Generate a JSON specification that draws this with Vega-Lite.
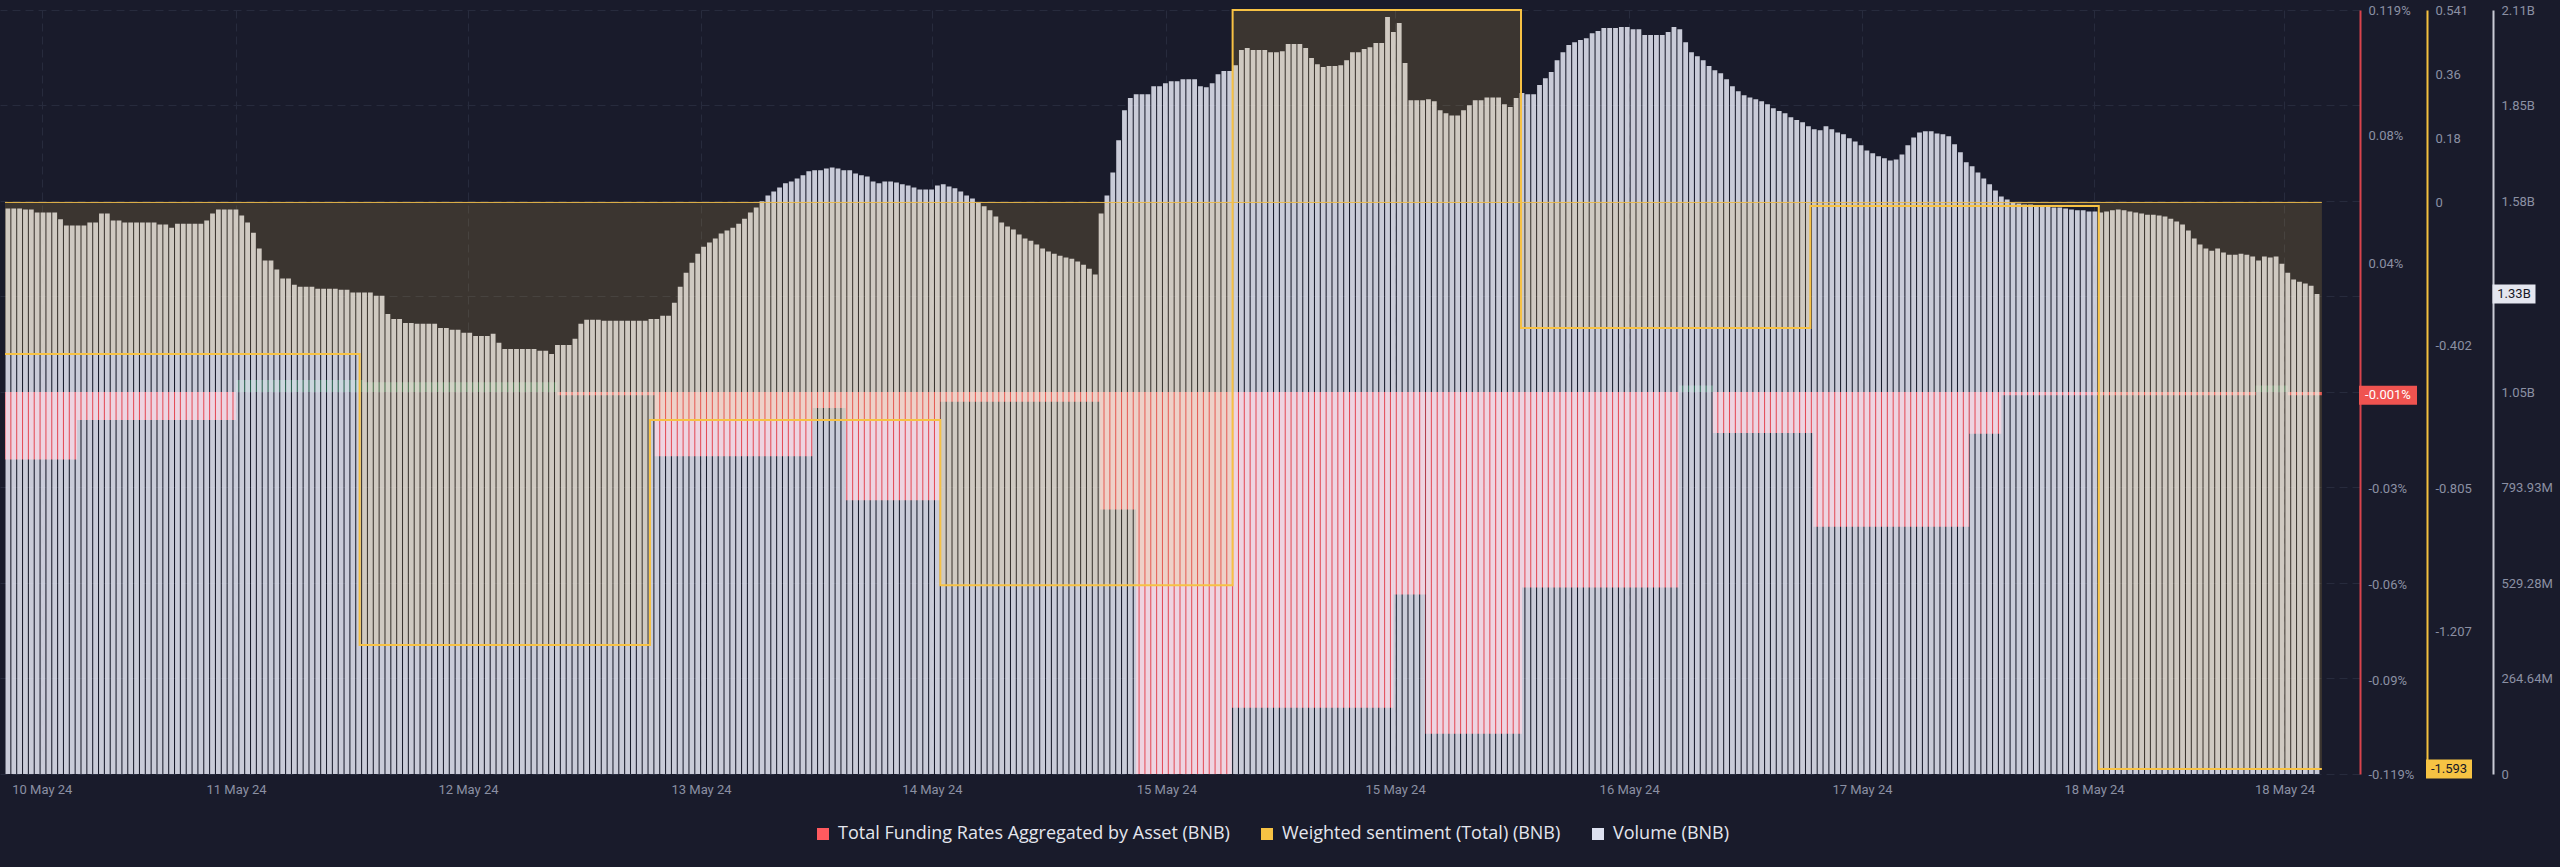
{
"$schema": "https://vega.github.io/schema/vega-lite/v6.json",
"width": 2360,
"height": 764,
"autosize": {"type": "none"},
"padding": {"left": 0, "top": 10, "right": 200, "bottom": 93},
"background": "#191b2b",
"config": {"view": {"stroke": null}, "font": "Roboto", "axis": {"labelFont": "Roboto"}, "legend": {"labelFont": "Open Sans"}},
"datasets": {
"volume": [
{"t":"2024-05-10T21:00","v":1.567},{"t":"2024-05-10T21:30","v":1.567},{"t":"2024-05-10T22:00","v":1.567},{"t":"2024-05-10T22:30","v":1.564},{"t":"2024-05-10T23:00","v":1.564},{"t":"2024-05-10T23:30","v":1.556},
{"t":"2024-05-11T00:00","v":1.556},{"t":"2024-05-11T00:30","v":1.556},{"t":"2024-05-11T01:00","v":1.556},{"t":"2024-05-11T01:30","v":1.537},{"t":"2024-05-11T02:00","v":1.520},{"t":"2024-05-11T02:30","v":1.520},{"t":"2024-05-11T03:00","v":1.520},{"t":"2024-05-11T03:30","v":1.520},{"t":"2024-05-11T04:00","v":1.528},{"t":"2024-05-11T04:30","v":1.528},{"t":"2024-05-11T05:00","v":1.553},{"t":"2024-05-11T05:30","v":1.553},{"t":"2024-05-11T06:00","v":1.534},{"t":"2024-05-11T06:30","v":1.534},{"t":"2024-05-11T07:00","v":1.528},{"t":"2024-05-11T07:30","v":1.528},{"t":"2024-05-11T08:00","v":1.528},{"t":"2024-05-11T08:30","v":1.528},{"t":"2024-05-11T09:00","v":1.528},{"t":"2024-05-11T09:30","v":1.528},{"t":"2024-05-11T10:00","v":1.523},{"t":"2024-05-11T10:30","v":1.523},{"t":"2024-05-11T11:00","v":1.514},{"t":"2024-05-11T11:30","v":1.525},{"t":"2024-05-11T12:00","v":1.525},{"t":"2024-05-11T12:30","v":1.525},{"t":"2024-05-11T13:00","v":1.525},{"t":"2024-05-11T13:30","v":1.525},{"t":"2024-05-11T14:00","v":1.534},{"t":"2024-05-11T14:30","v":1.553},{"t":"2024-05-11T15:00","v":1.564},{"t":"2024-05-11T15:30","v":1.564},{"t":"2024-05-11T16:00","v":1.564},{"t":"2024-05-11T16:30","v":1.564},{"t":"2024-05-11T17:00","v":1.548},{"t":"2024-05-11T17:30","v":1.528},{"t":"2024-05-11T18:00","v":1.500},{"t":"2024-05-11T18:30","v":1.456},{"t":"2024-05-11T19:00","v":1.423},{"t":"2024-05-11T19:30","v":1.423},{"t":"2024-05-11T20:00","v":1.398},{"t":"2024-05-11T20:30","v":1.373},{"t":"2024-05-11T21:00","v":1.373},{"t":"2024-05-11T21:30","v":1.356},{"t":"2024-05-11T22:00","v":1.350},{"t":"2024-05-11T22:30","v":1.350},{"t":"2024-05-11T23:00","v":1.350},{"t":"2024-05-11T23:30","v":1.345},
{"t":"2024-05-12T00:00","v":1.345},{"t":"2024-05-12T00:30","v":1.345},{"t":"2024-05-12T01:00","v":1.345},{"t":"2024-05-12T01:30","v":1.342},{"t":"2024-05-12T02:00","v":1.342},{"t":"2024-05-12T02:30","v":1.334},{"t":"2024-05-12T03:00","v":1.334},{"t":"2024-05-12T03:30","v":1.334},{"t":"2024-05-12T04:00","v":1.334},{"t":"2024-05-12T04:30","v":1.325},{"t":"2024-05-12T05:00","v":1.325},{"t":"2024-05-12T05:30","v":1.275},{"t":"2024-05-12T06:00","v":1.261},{"t":"2024-05-12T06:30","v":1.261},{"t":"2024-05-12T07:00","v":1.250},{"t":"2024-05-12T07:30","v":1.250},{"t":"2024-05-12T08:00","v":1.248},{"t":"2024-05-12T08:30","v":1.248},{"t":"2024-05-12T09:00","v":1.248},{"t":"2024-05-12T09:30","v":1.248},{"t":"2024-05-12T10:00","v":1.236},{"t":"2024-05-12T10:30","v":1.236},{"t":"2024-05-12T11:00","v":1.231},{"t":"2024-05-12T11:30","v":1.231},{"t":"2024-05-12T12:00","v":1.223},{"t":"2024-05-12T12:30","v":1.223},{"t":"2024-05-12T13:00","v":1.214},{"t":"2024-05-12T13:30","v":1.214},{"t":"2024-05-12T14:00","v":1.214},{"t":"2024-05-12T14:30","v":1.220},{"t":"2024-05-12T15:00","v":1.195},{"t":"2024-05-12T15:30","v":1.178},{"t":"2024-05-12T16:00","v":1.178},{"t":"2024-05-12T16:30","v":1.178},{"t":"2024-05-12T17:00","v":1.178},{"t":"2024-05-12T17:30","v":1.178},{"t":"2024-05-12T18:00","v":1.178},{"t":"2024-05-12T18:30","v":1.173},{"t":"2024-05-12T19:00","v":1.173},{"t":"2024-05-12T19:30","v":1.164},{"t":"2024-05-12T20:00","v":1.189},{"t":"2024-05-12T20:30","v":1.189},{"t":"2024-05-12T21:00","v":1.189},{"t":"2024-05-12T21:30","v":1.206},{"t":"2024-05-12T22:00","v":1.248},{"t":"2024-05-12T22:30","v":1.259},{"t":"2024-05-12T23:00","v":1.259},{"t":"2024-05-12T23:30","v":1.259},
{"t":"2024-05-13T00:00","v":1.256},{"t":"2024-05-13T00:30","v":1.256},{"t":"2024-05-13T01:00","v":1.256},{"t":"2024-05-13T01:30","v":1.256},{"t":"2024-05-13T02:00","v":1.256},{"t":"2024-05-13T02:30","v":1.256},{"t":"2024-05-13T03:00","v":1.256},{"t":"2024-05-13T03:30","v":1.256},{"t":"2024-05-13T04:00","v":1.261},{"t":"2024-05-13T04:30","v":1.261},{"t":"2024-05-13T05:00","v":1.270},{"t":"2024-05-13T05:30","v":1.270},{"t":"2024-05-13T06:00","v":1.306},{"t":"2024-05-13T06:30","v":1.350},{"t":"2024-05-13T07:00","v":1.389},{"t":"2024-05-13T07:30","v":1.417},{"t":"2024-05-13T08:00","v":1.442},{"t":"2024-05-13T08:30","v":1.461},{"t":"2024-05-13T09:00","v":1.473},{"t":"2024-05-13T09:30","v":1.484},{"t":"2024-05-13T10:00","v":1.498},{"t":"2024-05-13T10:30","v":1.506},{"t":"2024-05-13T11:00","v":1.514},{"t":"2024-05-13T11:30","v":1.525},{"t":"2024-05-13T12:00","v":1.539},{"t":"2024-05-13T12:30","v":1.556},{"t":"2024-05-13T13:00","v":1.570},{"t":"2024-05-13T13:30","v":1.587},{"t":"2024-05-13T14:00","v":1.603},{"t":"2024-05-13T14:30","v":1.614},{"t":"2024-05-13T15:00","v":1.625},{"t":"2024-05-13T15:30","v":1.637},{"t":"2024-05-13T16:00","v":1.642},{"t":"2024-05-13T16:30","v":1.650},{"t":"2024-05-13T17:00","v":1.659},{"t":"2024-05-13T17:30","v":1.670},{"t":"2024-05-13T18:00","v":1.673},{"t":"2024-05-13T18:30","v":1.673},{"t":"2024-05-13T19:00","v":1.678},{"t":"2024-05-13T19:30","v":1.681},{"t":"2024-05-13T20:00","v":1.678},{"t":"2024-05-13T20:30","v":1.673},{"t":"2024-05-13T21:00","v":1.673},{"t":"2024-05-13T21:30","v":1.664},{"t":"2024-05-13T22:00","v":1.659},{"t":"2024-05-13T22:30","v":1.656},{"t":"2024-05-13T23:00","v":1.642},{"t":"2024-05-13T23:30","v":1.637},
{"t":"2024-05-14T00:00","v":1.642},{"t":"2024-05-14T00:30","v":1.642},{"t":"2024-05-14T01:00","v":1.639},{"t":"2024-05-14T01:30","v":1.634},{"t":"2024-05-14T02:00","v":1.631},{"t":"2024-05-14T02:30","v":1.625},{"t":"2024-05-14T03:00","v":1.620},{"t":"2024-05-14T03:30","v":1.620},{"t":"2024-05-14T04:00","v":1.620},{"t":"2024-05-14T04:30","v":1.631},{"t":"2024-05-14T05:00","v":1.634},{"t":"2024-05-14T05:30","v":1.628},{"t":"2024-05-14T06:00","v":1.623},{"t":"2024-05-14T06:30","v":1.614},{"t":"2024-05-14T07:00","v":1.603},{"t":"2024-05-14T07:30","v":1.595},{"t":"2024-05-14T08:00","v":1.584},{"t":"2024-05-14T08:30","v":1.573},{"t":"2024-05-14T09:00","v":1.562},{"t":"2024-05-14T09:30","v":1.545},{"t":"2024-05-14T10:00","v":1.528},{"t":"2024-05-14T10:30","v":1.517},{"t":"2024-05-14T11:00","v":1.509},{"t":"2024-05-14T11:30","v":1.495},{"t":"2024-05-14T12:00","v":1.484},{"t":"2024-05-14T12:30","v":1.478},{"t":"2024-05-14T13:00","v":1.467},{"t":"2024-05-14T13:30","v":1.456},{"t":"2024-05-14T14:00","v":1.448},{"t":"2024-05-14T14:30","v":1.442},{"t":"2024-05-14T15:00","v":1.436},{"t":"2024-05-14T15:30","v":1.431},{"t":"2024-05-14T16:00","v":1.428},{"t":"2024-05-14T16:30","v":1.420},{"t":"2024-05-14T17:00","v":1.411},{"t":"2024-05-14T17:30","v":1.400},{"t":"2024-05-14T18:00","v":1.384},{"t":"2024-05-14T18:30","v":1.553},{"t":"2024-05-14T19:00","v":1.603},{"t":"2024-05-14T19:30","v":1.667},{"t":"2024-05-14T20:00","v":1.756},{"t":"2024-05-14T20:30","v":1.839},{"t":"2024-05-14T21:00","v":1.873},{"t":"2024-05-14T21:30","v":1.884},{"t":"2024-05-14T22:00","v":1.884},{"t":"2024-05-14T22:30","v":1.884},{"t":"2024-05-14T23:00","v":1.906},{"t":"2024-05-14T23:30","v":1.906},
{"t":"2024-05-15T00:00","v":1.914},{"t":"2024-05-15T00:30","v":1.920},{"t":"2024-05-15T01:00","v":1.920},{"t":"2024-05-15T01:30","v":1.925},{"t":"2024-05-15T02:00","v":1.925},{"t":"2024-05-15T02:30","v":1.925},{"t":"2024-05-15T03:00","v":1.906},{"t":"2024-05-15T03:30","v":1.903},{"t":"2024-05-15T04:00","v":1.914},{"t":"2024-05-15T04:30","v":1.939},{"t":"2024-05-15T05:00","v":1.948},{"t":"2024-05-15T05:30","v":1.948},{"t":"2024-05-15T06:00","v":1.964},{"t":"2024-05-15T06:30","v":2.006},{"t":"2024-05-15T07:00","v":2.012},{"t":"2024-05-15T07:30","v":2.006},{"t":"2024-05-15T08:00","v":2.006},{"t":"2024-05-15T08:30","v":2.006},{"t":"2024-05-15T09:00","v":2.000},{"t":"2024-05-15T09:30","v":2.000},{"t":"2024-05-15T10:00","v":2.003},{"t":"2024-05-15T10:30","v":2.023},{"t":"2024-05-15T11:00","v":2.023},{"t":"2024-05-15T11:30","v":2.023},{"t":"2024-05-15T12:00","v":2.012},{"t":"2024-05-15T12:30","v":1.984},{"t":"2024-05-15T13:00","v":1.967},{"t":"2024-05-15T13:30","v":1.959},{"t":"2024-05-15T14:00","v":1.962},{"t":"2024-05-15T14:30","v":1.962},{"t":"2024-05-15T15:00","v":1.964},{"t":"2024-05-15T15:30","v":1.978},{"t":"2024-05-15T16:00","v":2.000},{"t":"2024-05-15T16:30","v":2.000},{"t":"2024-05-15T17:00","v":2.009},{"t":"2024-05-15T17:30","v":2.014},{"t":"2024-05-15T18:00","v":2.026},{"t":"2024-05-15T18:30","v":2.026},{"t":"2024-05-15T19:00","v":2.098},{"t":"2024-05-15T19:30","v":2.056},{"t":"2024-05-15T20:00","v":2.081},{"t":"2024-05-15T20:30","v":1.970},{"t":"2024-05-15T21:00","v":1.867},{"t":"2024-05-15T21:30","v":1.867},{"t":"2024-05-15T22:00","v":1.867},{"t":"2024-05-15T22:30","v":1.870},{"t":"2024-05-15T23:00","v":1.864},{"t":"2024-05-15T23:30","v":1.839},
{"t":"2024-05-16T00:00","v":1.831},{"t":"2024-05-16T00:30","v":1.825},{"t":"2024-05-16T01:00","v":1.825},{"t":"2024-05-16T01:30","v":1.839},{"t":"2024-05-16T02:00","v":1.853},{"t":"2024-05-16T02:30","v":1.867},{"t":"2024-05-16T03:00","v":1.867},{"t":"2024-05-16T03:30","v":1.875},{"t":"2024-05-16T04:00","v":1.875},{"t":"2024-05-16T04:30","v":1.875},{"t":"2024-05-16T05:00","v":1.856},{"t":"2024-05-16T05:30","v":1.848},{"t":"2024-05-16T06:00","v":1.873},{"t":"2024-05-16T06:30","v":1.887},{"t":"2024-05-16T07:00","v":1.884},{"t":"2024-05-16T07:30","v":1.884},{"t":"2024-05-16T08:00","v":1.909},{"t":"2024-05-16T08:30","v":1.928},{"t":"2024-05-16T09:00","v":1.945},{"t":"2024-05-16T09:30","v":1.978},{"t":"2024-05-16T10:00","v":2.000},{"t":"2024-05-16T10:30","v":2.020},{"t":"2024-05-16T11:00","v":2.028},{"t":"2024-05-16T11:30","v":2.034},{"t":"2024-05-16T12:00","v":2.039},{"t":"2024-05-16T12:30","v":2.053},{"t":"2024-05-16T13:00","v":2.059},{"t":"2024-05-16T13:30","v":2.067},{"t":"2024-05-16T14:00","v":2.067},{"t":"2024-05-16T14:30","v":2.067},{"t":"2024-05-16T15:00","v":2.070},{"t":"2024-05-16T15:30","v":2.070},{"t":"2024-05-16T16:00","v":2.064},{"t":"2024-05-16T16:30","v":2.064},{"t":"2024-05-16T17:00","v":2.048},{"t":"2024-05-16T17:30","v":2.048},{"t":"2024-05-16T18:00","v":2.048},{"t":"2024-05-16T18:30","v":2.048},{"t":"2024-05-16T19:00","v":2.056},{"t":"2024-05-16T19:30","v":2.070},{"t":"2024-05-16T20:00","v":2.064},{"t":"2024-05-16T20:30","v":2.028},{"t":"2024-05-16T21:00","v":2.000},{"t":"2024-05-16T21:30","v":1.989},{"t":"2024-05-16T22:00","v":1.978},{"t":"2024-05-16T22:30","v":1.962},{"t":"2024-05-16T23:00","v":1.950},{"t":"2024-05-16T23:30","v":1.942},
{"t":"2024-05-17T00:00","v":1.925},{"t":"2024-05-17T00:30","v":1.906},{"t":"2024-05-17T01:00","v":1.892},{"t":"2024-05-17T01:30","v":1.881},{"t":"2024-05-17T02:00","v":1.875},{"t":"2024-05-17T02:30","v":1.870},{"t":"2024-05-17T03:00","v":1.864},{"t":"2024-05-17T03:30","v":1.856},{"t":"2024-05-17T04:00","v":1.845},{"t":"2024-05-17T04:30","v":1.837},{"t":"2024-05-17T05:00","v":1.831},{"t":"2024-05-17T05:30","v":1.820},{"t":"2024-05-17T06:00","v":1.812},{"t":"2024-05-17T06:30","v":1.806},{"t":"2024-05-17T07:00","v":1.795},{"t":"2024-05-17T07:30","v":1.787},{"t":"2024-05-17T08:00","v":1.784},{"t":"2024-05-17T08:30","v":1.795},{"t":"2024-05-17T09:00","v":1.787},{"t":"2024-05-17T09:30","v":1.778},{"t":"2024-05-17T10:00","v":1.773},{"t":"2024-05-17T10:30","v":1.762},{"t":"2024-05-17T11:00","v":1.753},{"t":"2024-05-17T11:30","v":1.742},{"t":"2024-05-17T12:00","v":1.728},{"t":"2024-05-17T12:30","v":1.720},{"t":"2024-05-17T13:00","v":1.712},{"t":"2024-05-17T13:30","v":1.706},{"t":"2024-05-17T14:00","v":1.700},{"t":"2024-05-17T14:30","v":1.703},{"t":"2024-05-17T15:00","v":1.717},{"t":"2024-05-17T15:30","v":1.742},{"t":"2024-05-17T16:00","v":1.764},{"t":"2024-05-17T16:30","v":1.778},{"t":"2024-05-17T17:00","v":1.781},{"t":"2024-05-17T17:30","v":1.781},{"t":"2024-05-17T18:00","v":1.775},{"t":"2024-05-17T18:30","v":1.773},{"t":"2024-05-17T19:00","v":1.767},{"t":"2024-05-17T19:30","v":1.745},{"t":"2024-05-17T20:00","v":1.723},{"t":"2024-05-17T20:30","v":1.695},{"t":"2024-05-17T21:00","v":1.684},{"t":"2024-05-17T21:30","v":1.667},{"t":"2024-05-17T22:00","v":1.650},{"t":"2024-05-17T22:30","v":1.634},{"t":"2024-05-17T23:00","v":1.617},{"t":"2024-05-17T23:30","v":1.600},
{"t":"2024-05-18T00:00","v":1.592},{"t":"2024-05-18T00:30","v":1.584},{"t":"2024-05-18T01:00","v":1.581},{"t":"2024-05-18T01:30","v":1.578},{"t":"2024-05-18T02:00","v":1.578},{"t":"2024-05-18T02:30","v":1.575},{"t":"2024-05-18T03:00","v":1.573},{"t":"2024-05-18T03:30","v":1.573},{"t":"2024-05-18T04:00","v":1.570},{"t":"2024-05-18T04:30","v":1.570},{"t":"2024-05-18T05:00","v":1.567},{"t":"2024-05-18T05:30","v":1.564},{"t":"2024-05-18T06:00","v":1.562},{"t":"2024-05-18T06:30","v":1.562},{"t":"2024-05-18T07:00","v":1.559},{"t":"2024-05-18T07:30","v":1.559},{"t":"2024-05-18T08:00","v":1.556},{"t":"2024-05-18T08:30","v":1.559},{"t":"2024-05-18T09:00","v":1.562},{"t":"2024-05-18T09:30","v":1.564},{"t":"2024-05-18T10:00","v":1.562},{"t":"2024-05-18T10:30","v":1.559},{"t":"2024-05-18T11:00","v":1.556},{"t":"2024-05-18T11:30","v":1.553},{"t":"2024-05-18T12:00","v":1.550},{"t":"2024-05-18T12:30","v":1.550},{"t":"2024-05-18T13:00","v":1.548},{"t":"2024-05-18T13:30","v":1.545},{"t":"2024-05-18T14:00","v":1.539},{"t":"2024-05-18T14:30","v":1.531},{"t":"2024-05-18T15:00","v":1.523},{"t":"2024-05-18T15:30","v":1.506},{"t":"2024-05-18T16:00","v":1.484},{"t":"2024-05-18T16:30","v":1.467},{"t":"2024-05-18T17:00","v":1.456},{"t":"2024-05-18T17:30","v":1.450},{"t":"2024-05-18T18:00","v":1.456},{"t":"2024-05-18T18:30","v":1.445},{"t":"2024-05-18T19:00","v":1.439},{"t":"2024-05-18T19:30","v":1.439},{"t":"2024-05-18T20:00","v":1.442},{"t":"2024-05-18T20:30","v":1.439},{"t":"2024-05-18T21:00","v":1.434},{"t":"2024-05-18T21:30","v":1.423},{"t":"2024-05-18T22:00","v":1.434},{"t":"2024-05-18T22:30","v":1.431},{"t":"2024-05-18T23:00","v":1.434},{"t":"2024-05-18T23:30","v":1.414},
{"t":"2024-05-19T00:00","v":1.389},{"t":"2024-05-19T00:30","v":1.370},{"t":"2024-05-19T01:00","v":1.364},{"t":"2024-05-19T01:30","v":1.359},{"t":"2024-05-19T02:00","v":1.353},{"t":"2024-05-19T02:30","v":1.33}
],
"funding": [
{"s":"2024-05-10T20:45","e":"2024-05-11T02:55","f":-0.021},
{"s":"2024-05-11T02:55","e":"2024-05-11T16:30","f":-0.0087},
{"s":"2024-05-11T16:30","e":"2024-05-12T03:25","f":0.0037},
{"s":"2024-05-12T03:25","e":"2024-05-12T20:00","f":0.003},
{"s":"2024-05-12T20:00","e":"2024-05-13T04:20","f":-0.001},
{"s":"2024-05-13T04:20","e":"2024-05-13T17:50","f":-0.02},
{"s":"2024-05-13T17:50","e":"2024-05-13T20:40","f":-0.005},
{"s":"2024-05-13T20:40","e":"2024-05-14T04:45","f":-0.0337},
{"s":"2024-05-14T04:45","e":"2024-05-14T18:25","f":-0.003},
{"s":"2024-05-14T18:25","e":"2024-05-14T21:30","f":-0.0366},
{"s":"2024-05-14T21:30","e":"2024-05-15T05:40","f":-0.119},
{"s":"2024-05-15T05:40","e":"2024-05-15T19:30","f":-0.0984},
{"s":"2024-05-15T19:30","e":"2024-05-15T22:15","f":-0.0631},
{"s":"2024-05-15T22:15","e":"2024-05-16T06:30","f":-0.1065},
{"s":"2024-05-16T06:30","e":"2024-05-16T19:55","f":-0.0609},
{"s":"2024-05-16T19:55","e":"2024-05-16T22:50","f":0.002},
{"s":"2024-05-16T22:50","e":"2024-05-17T07:25","f":-0.0128},
{"s":"2024-05-17T07:25","e":"2024-05-17T20:45","f":-0.042},
{"s":"2024-05-17T20:45","e":"2024-05-17T23:30","f":-0.013},
{"s":"2024-05-17T23:30","e":"2024-05-18T21:15","f":-0.001},
{"s":"2024-05-18T21:15","e":"2024-05-19T00:00","f":0.002},
{"s":"2024-05-19T00:00","e":"2024-05-19T02:55","f":-0.001}
],
"sentiment": [
{"t":"2024-05-10T20:45","w":-0.426},
{"t":"2024-05-12T03:05","w":-1.244},
{"t":"2024-05-13T03:55","w":-0.612},
{"t":"2024-05-14T04:45","w":-1.076},
{"t":"2024-05-15T05:45","w":0.541},
{"t":"2024-05-16T06:25","w":-0.353},
{"t":"2024-05-17T07:10","w":-0.01},
{"t":"2024-05-18T07:50","w":-1.593},
{"t":"2024-05-19T02:55","w":-1.593}
]
},
"layer": [
{
"data": {"values": [{"s": "Total Funding Rates Aggregated by Asset (BNB)"}, {"s": "Weighted sentiment (Total) (BNB)"}, {"s": "Volume (BNB)"}]},
"mark": {"type": "square", "opacity": 0},
"encoding": {
"color": {"field": "s", "type": "nominal",
"scale": {"domain": ["Total Funding Rates Aggregated by Asset (BNB)", "Weighted sentiment (Total) (BNB)", "Volume (BNB)"], "range": ["#ff5a5f", "#f7c244", "#dde1f0"]},
"legend": {"orient": "none", "legendX": 814, "legendY": 815, "direction": "horizontal", "title": null, "symbolType": "square", "symbolSize": 144, "symbolOpacity": 1, "symbolStrokeWidth": 0, "labelFontSize": 18, "labelColor": "#e4e6ee", "columnPadding": 28, "labelOffset": 6, "padding": 0, "labelLimit": 0}}
}
},
{
"layer": [
{
"data": {"name": "funding"},
"mark": {"type": "rect"},
"encoding": {
"x": {"field": "s", "type": "temporal", "title": null, "scale": {"domain": [{"year": 2024, "month": 5, "date": 10, "hours": 20, "minutes": 45}, {"year": 2024, "month": 5, "date": 19, "hours": 5, "minutes": 45}]}},
"x2": {"field": "e"},
"y": {"field": "f", "type": "quantitative", "title": null, "scale": {"domain": [-0.119, 0.119], "nice": false, "zero": false},
"axis": {"orient": "right", "offset": 0, "title": null, "values": [0.119, 0.08, 0.04, -0.03, -0.06, -0.09, -0.119], "labelExpr": "datum.value + '%'", "domainColor": "#d8434c", "domainWidth": 2, "ticks": false, "grid": false, "labelColor": "#8b90a3", "labelFontSize": 13, "labelPadding": 8}},
"y2": {"datum": 0},
"fill": {"condition": {"test": "datum.f > 0", "value": "#3fae73"}, "value": "#ee4f5b"},
"opacity": {"condition": {"test": "datum.f > 0", "value": 0.45}, "value": 0.95}
}
},
{
"data": {"values": [{"t": "2024-05-19T02:30", "f": -0.001, "lab": "-0.001%"}]},
"mark": {"type": "point", "shape": "M-1,-0.3276H1V0.3276H-1Z", "size": 3364, "filled": true, "opacity": 1, "color": "#ef5350", "strokeWidth": 0, "xOffset": 71},
"encoding": {
"x": {"field": "t", "type": "temporal", "title": null},
"y": {"field": "f", "type": "quantitative", "title": null}
}
},
{
"data": {"values": [{"t": "2024-05-19T02:30", "f": -0.001, "lab": "-0.001%"}]},
"mark": {"type": "text", "color": "#ffffff", "fontSize": 13, "align": "center", "baseline": "middle", "xOffset": 71},
"encoding": {
"x": {"field": "t", "type": "temporal", "title": null},
"y": {"field": "f", "type": "quantitative", "title": null},
"text": {"field": "lab"}
}
}
]
},
{
"data": {"name": "volume"},
"mark": {"type": "bar", "size": 4.8, "color": "#f0f3ff", "opacity": 0.82},
"encoding": {
"x": {"field": "t", "type": "temporal", "title": null, "scale": {"domain": [{"year": 2024, "month": 5, "date": 10, "hours": 20, "minutes": 45}, {"year": 2024, "month": 5, "date": 19, "hours": 5, "minutes": 45}]},
"axis": {"title": null, "values": [
{"year": 2024, "month": 5, "date": 10, "hours": 23, "minutes": 54},
{"year": 2024, "month": 5, "date": 11, "hours": 16, "minutes": 31},
{"year": 2024, "month": 5, "date": 12, "hours": 12, "minutes": 21},
{"year": 2024, "month": 5, "date": 13, "hours": 8, "minutes": 17},
{"year": 2024, "month": 5, "date": 14, "hours": 4, "minutes": 2},
{"year": 2024, "month": 5, "date": 15, "hours": 0, "minutes": 5},
{"year": 2024, "month": 5, "date": 15, "hours": 19, "minutes": 39},
{"year": 2024, "month": 5, "date": 16, "hours": 15, "minutes": 40},
{"year": 2024, "month": 5, "date": 17, "hours": 11, "minutes": 35},
{"year": 2024, "month": 5, "date": 18, "hours": 7, "minutes": 26},
{"year": 2024, "month": 5, "date": 18, "hours": 23, "minutes": 43}],
"format": "%d %b %y", "labelColor": "#8b90a3", "labelFontSize": 13, "labelPadding": 9, "ticks": false, "domain": false, "grid": true, "gridColor": "#272b3d", "gridDash": [8, 5], "labelFlush": false, "labelOverlap": false}},
"y": {"field": "v", "type": "quantitative", "title": null, "scale": {"domain": [0, 2.11714], "nice": false},
"axis": {"orient": "right", "offset": 133, "title": null, "values": [0, 0.264643, 0.529285, 0.793928, 1.05857, 1.323213, 1.587855, 1.852498, 2.11714], "labelExpr": "['0','264.64M','529.28M','793.93M','1.05B','1.32B','1.58B','1.85B','2.11B'][round(datum.value/0.264643)]", "domainColor": "#c9cbd6", "domainWidth": 2, "ticks": false, "grid": true, "gridColor": "#272b3d", "gridDash": [8, 5], "labelColor": "#8b90a3", "labelFontSize": 13, "labelPadding": 8}}
}
},
{
"layer": [
{
"data": {"name": "sentiment"},
"mark": {"type": "area", "interpolate": "step-after", "color": "#f5c04a", "opacity": 0.16},
"encoding": {
"x": {"field": "t", "type": "temporal", "title": null},
"y": {"field": "w", "type": "quantitative", "title": null, "scale": {"domain": [-1.607, 0.541], "nice": false, "zero": false},
"axis": {"orient": "right", "offset": 67, "title": null, "values": [0.541, 0.36, 0.18, 0, -0.402, -0.805, -1.207, -1.593], "labelExpr": "datum.value + ''", "domainColor": "#f5c13e", "domainWidth": 2, "ticks": false, "grid": false, "labelColor": "#8b90a3", "labelFontSize": 13, "labelPadding": 8}},
"y2": {"datum": 0}
}
},
{
"data": {"values": [{"a": 0}]},
"mark": {"type": "rule", "color": "#e9b84a", "strokeWidth": 1},
"encoding": {
"x": {"datum": {"year": 2024, "month": 5, "date": 10, "hours": 20, "minutes": 45}, "type": "temporal", "title": null},
"x2": {"datum": {"year": 2024, "month": 5, "date": 19, "hours": 2, "minutes": 55}},
"y": {"datum": 0, "type": "quantitative", "title": null}
}
},
{
"data": {"name": "sentiment"},
"mark": {"type": "line", "interpolate": "step-after", "color": "#f7c244", "strokeWidth": 2},
"encoding": {
"x": {"field": "t", "type": "temporal", "title": null},
"y": {"field": "w", "type": "quantitative", "title": null}
}
},
{
"data": {"values": [{"t": "2024-05-19T02:30", "w": -1.593, "lab": "-1.593"}]},
"mark": {"type": "point", "shape": "M-1,-0.413H1V0.413H-1Z", "size": 2116, "filled": true, "opacity": 1, "color": "#f6c343", "strokeWidth": 0, "xOffset": 132},
"encoding": {
"x": {"field": "t", "type": "temporal", "title": null},
"y": {"field": "w", "type": "quantitative", "title": null}
}
},
{
"data": {"values": [{"t": "2024-05-19T02:30", "w": -1.593, "lab": "-1.593"}]},
"mark": {"type": "text", "color": "#161827", "fontSize": 13, "align": "center", "baseline": "middle", "xOffset": 132},
"encoding": {
"x": {"field": "t", "type": "temporal", "title": null},
"y": {"field": "w", "type": "quantitative", "title": null},
"text": {"field": "lab"}
}
}
]
},
{
"data": {"values": [{"t": "2024-05-19T02:30", "v": 1.33, "lab": "1.33B"}]},
"layer": [
{
"mark": {"type": "point", "shape": "M-1,-0.4419H1V0.4419H-1Z", "size": 1849, "filled": true, "opacity": 1, "color": "#e4e6ef", "strokeWidth": 0, "xOffset": 197},
"encoding": {
"x": {"field": "t", "type": "temporal", "title": null},
"y": {"field": "v", "type": "quantitative", "title": null, "scale": {"domain": [0, 2.11714], "nice": false}, "axis": null}
}
},
{
"mark": {"type": "text", "color": "#161827", "fontSize": 13, "align": "center", "baseline": "middle", "xOffset": 197},
"encoding": {
"x": {"field": "t", "type": "temporal", "title": null},
"y": {"field": "v", "type": "quantitative", "title": null, "scale": {"domain": [0, 2.11714], "nice": false}, "axis": null},
"text": {"field": "lab"}
}
}
]
}
],
"resolve": {"scale": {"y": "independent"}}
}
